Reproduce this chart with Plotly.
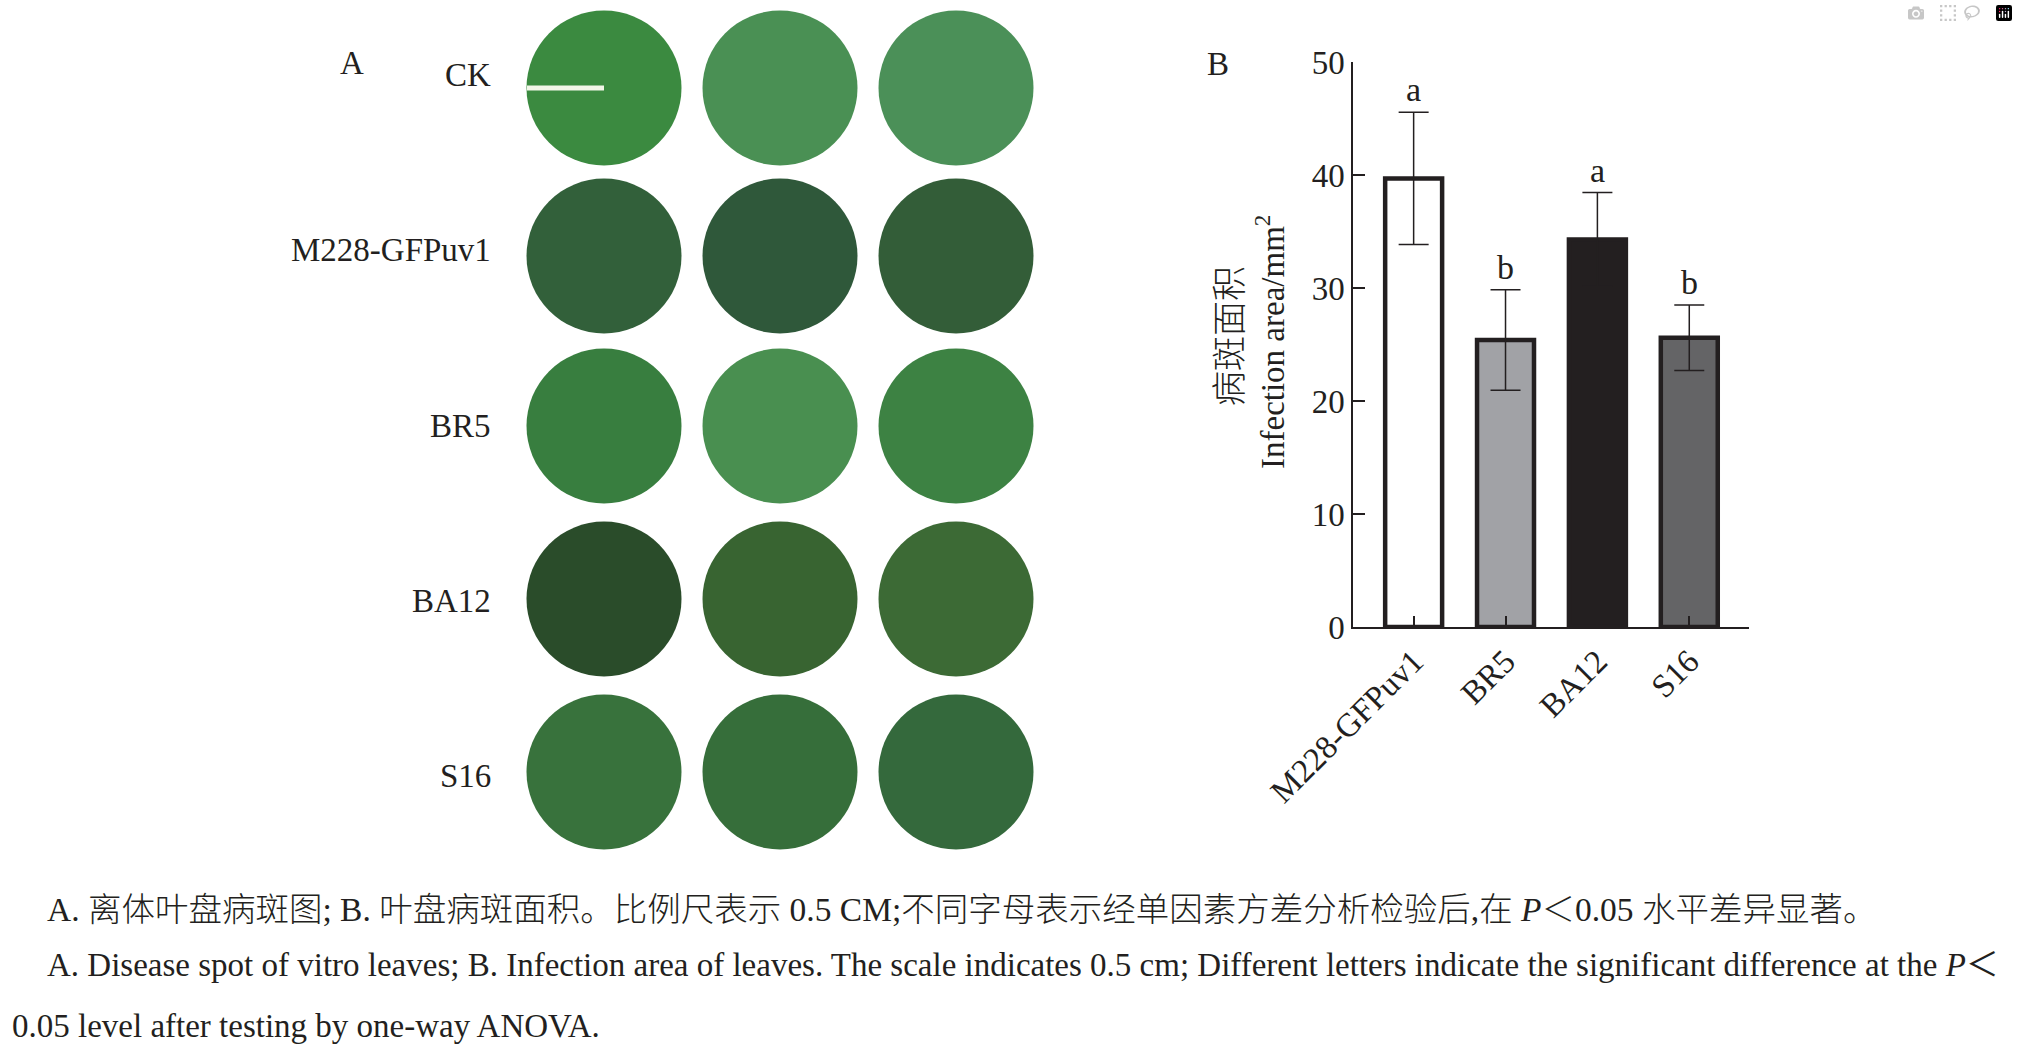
import plotly.graph_objects as go

# panel B data
strains = ["M228-GFPuv1", "BR5", "BA12", "S16"]
area_mean = [39.7, 25.4, 34.3, 25.6]
area_err = [5.85, 4.45, 4.15, 2.9]
sig_letters = ["a", "b", "a", "b"]
bar_colors = ["#ffffff", "#a1a2a6", "#231f20", "#646466"]
y_ticks = [0, 10, 20, 30, 40, 50]

# panel A: leaf disc rows and their (approximate) photo colours
disc_rows = ["CK", "M228-GFPuv1", "BR5", "BA12", "S16"]
disc_colors = [
    ["#3b8a40", "#4a9054", "#4b9058"],
    ["#32603a", "#2f583a", "#335d38"],
    ["#387e3f", "#498f50", "#3d8243"],
    ["#2a4c2a", "#386431", "#3c6a35"],
    ["#38723c", "#366e3a", "#34693c"],
]

SERIF = "Liberation Serif, Times New Roman, Noto Sans CJK SC"
INK = "#231f20"
W, H = 2018, 1048

# pixel positions for the photo grid (figure pixels)
col_x = [604, 780, 956]
row_y = [88, 256, 426, 599, 772]
row_label_y = [75, 250, 426, 601, 776]

fig = go.Figure()

# leaf discs, drawn on a hidden pixel-scaled overlay axis
for r, row in enumerate(disc_rows):
    fig.add_trace(go.Scatter(
        x=col_x, y=[row_y[r]] * 3, mode="markers",
        marker=dict(size=155, color=disc_colors[r], line=dict(width=0)),
        xaxis="x2", yaxis="y2", hoverinfo="skip", showlegend=False,
    ))

# bar chart
fig.add_trace(go.Bar(
    x=strains, y=area_mean, width=0.62,
    marker=dict(color=bar_colors, line=dict(color=INK, width=4.5)),
    error_y=dict(type="data", array=area_err, visible=True,
                 color=INK, thickness=1.5, width=15),
    showlegend=False, hoverinfo="skip",
))

annotations = []
for s, m, e, l in zip(strains, area_mean, area_err, sig_letters):
    annotations.append(dict(x=s, y=m + e, xref="x", yref="y", text=l,
                            showarrow=False, yanchor="bottom", yshift=2,
                            font=dict(family=SERIF, size=34, color=INK)))

# panel letters and row labels
annotations.append(dict(x=352, y=63, xref="x2", yref="y2", text="A", showarrow=False,
                        font=dict(family=SERIF, size=33, color=INK)))
annotations.append(dict(x=1218, y=64, xref="x2", yref="y2", text="B", showarrow=False,
                        font=dict(family=SERIF, size=33, color=INK)))
for lab, ly in zip(disc_rows, row_label_y):
    annotations.append(dict(x=493, y=ly, xref="x2", yref="y2", text=lab, showarrow=False,
                            xanchor="right", font=dict(family=SERIF, size=33, color=INK)))

# y axis title (two rotated lines)
annotations.append(dict(x=1230, y=336, xref="x2", yref="y2", text="病斑面积", textangle=-90,
                        showarrow=False, font=dict(family=SERIF, size=35, color=INK, weight=300)))
annotations.append(dict(x=1270, y=342, xref="x2", yref="y2", text="Infection area/mm<sup>2</sup>",
                        textangle=-90, showarrow=False, font=dict(family=SERIF, size=33, color=INK)))

# caption
caption = [
    (45, 909, 33.5, 300, "A. 离体叶盘病斑图; B. 叶盘病斑面积。比例尺表示 0.5 CM;不同字母表示经单因素方差分析检验后,在 <i>P</i>＜0.05 水平差异显著。"),
    (45, 965, 33, 400, "A. Disease spot of vitro leaves; B. Infection area of leaves. The scale indicates 0.5 cm; Different letters indicate the significant difference at the <i>P</i>＜"),
    (10, 1026, 33, 400, "0.05 level after testing by one-way ANOVA."),
]
for cx, cy, fs, fw, txt in caption:
    annotations.append(dict(x=cx, y=cy, xref="x2", yref="y2", text=txt, showarrow=False,
                            xanchor="left", font=dict(family=SERIF, size=fs, color=INK, weight=fw)))

fig.update_layout(
    width=W, height=H,
    margin=dict(l=0, r=0, t=0, b=0),
    paper_bgcolor="white", plot_bgcolor="rgba(0,0,0,0)",
    bargap=0.3,
    xaxis=dict(domain=[1353 / W, 1749 / W], range=[-0.66, 3.65], automargin=False,
               showline=True, linecolor=INK, linewidth=1.5,
               ticks="inside", ticklen=11, tickwidth=1.5, tickcolor=INK,
               tickangle=-45, tickfont=dict(family=SERIF, size=33, color=INK),
               showgrid=False, zeroline=False, fixedrange=True),
    yaxis=dict(domain=[1 - 627 / H, 1 - 62 / H], range=[0, 50], tickvals=y_ticks, automargin=False,
               showline=True, linecolor=INK, linewidth=1.5,
               ticks="inside", ticklen=12, tickwidth=1.5, tickcolor=INK,
               tickfont=dict(family=SERIF, size=33, color=INK),
               showgrid=False, zeroline=False, fixedrange=True),
    xaxis2=dict(domain=[0, 1], range=[0, W], visible=False, anchor="y2",
                automargin=False, fixedrange=True),
    yaxis2=dict(domain=[0, 1], range=[H, 0], visible=False, anchor="x2",
                automargin=False, fixedrange=True),
    shapes=[dict(type="line", xref="x2", yref="y2", x0=527, x1=604, y0=88, y1=88,
                 line=dict(color="#f2f6e8", width=5))],
    annotations=annotations,
)

fig.write_html("out.html", post_script="document.body.style.margin='0';")
